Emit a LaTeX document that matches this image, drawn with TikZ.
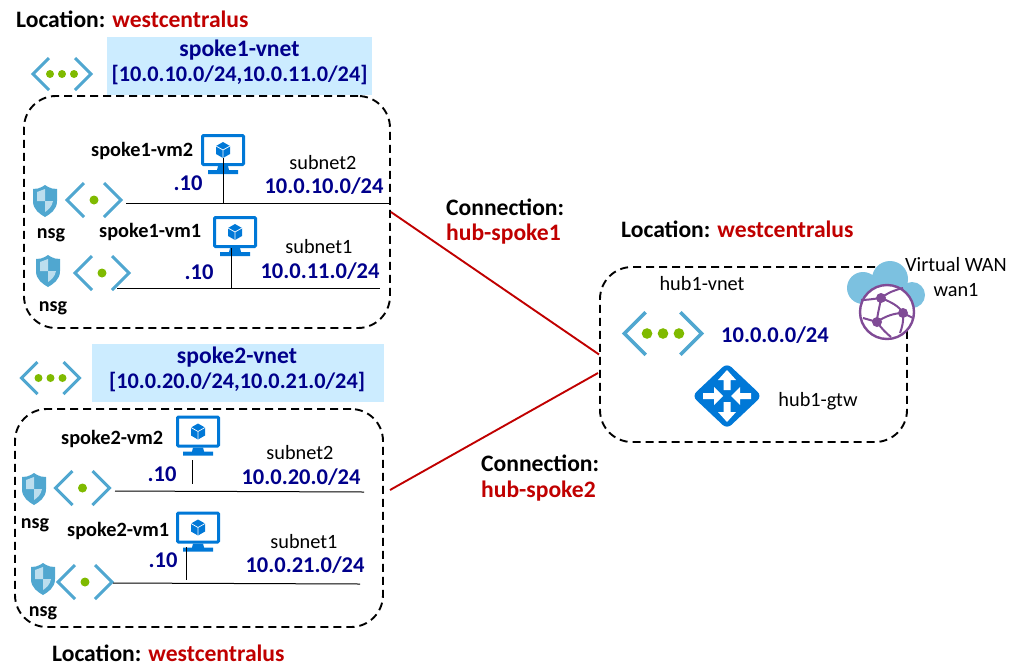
\documentclass[tikz,border=0pt]{standalone}
\usepackage{fontspec}
\setmainfont{Carlito}
\definecolor{azTeal}{RGB}{80,167,208}
\definecolor{azGreen}{RGB}{127,186,0}
\definecolor{azBlue}{RGB}{0,120,215}
\definecolor{azCloud}{RGB}{124,193,224}
\definecolor{azPurple}{RGB}{128,75,150}
\definecolor{shieldLight}{RGB}{188,222,238}
\definecolor{netBlue}{RGB}{0,0,139}
\definecolor{locRed}{RGB}{192,0,0}
\definecolor{vnetFill}{RGB}{204,236,255}
\tikzset{
  regionbox/.style={draw, line width=1.9pt, rounded corners=32pt, dash pattern=on 8pt off 5pt, inner sep=0pt},
  wire/.style={line width=1pt, black},
  link/.style={line width=1.9pt, locRed},
  loclabel/.style={font=\fontsize{23.6}{26}\selectfont\bfseries, anchor=west, inner sep=0pt},
  vmlabel/.style={font=\fontsize{20.3}{22}\selectfont\bfseries, anchor=west, inner sep=0pt},
  nsglabel/.style={font=\fontsize{20}{22}\selectfont\bfseries, inner sep=0pt},
  plainlabel/.style={font=\fontsize{20.3}{22}\selectfont, inner sep=0pt},
  cidrlabel/.style={font=\fontsize{22.5}{24}\selectfont\bfseries, netBlue, inner sep=0pt},
  vnetfill/.style={fill=vnetFill, inner sep=0pt},
  vnetlabel/.style={font=\fontsize{23.6}{25}\selectfont\bfseries, netBlue, align=center, inner sep=0pt},
  chevron/.style={draw=azTeal, line width=3pt, line join=miter},
  vnetthree/.pic={
    \draw[chevron] (-13,-16) -- (-29,0) -- (-13,16);
    \draw[chevron] (13,-16) -- (29,0) -- (13,16);
    \foreach \dx in {-12,0,12} \fill[azGreen] (\dx,0) circle (4);
  },
  vnetone/.pic={
    \draw[chevron] (-10,-17) -- (-27,0) -- (-10,17);
    \draw[chevron] (10,-17) -- (27,0) -- (10,17);
    \fill[azGreen] (0,0) circle (4.5);
  },
  nsgshield/.pic={
    \fill[azTeal] (0,-16) .. controls (6,-12) and (9,-12) .. (12,-12) -- (12,0) .. controls (12,9) and (5,13) .. (0,16) .. controls (-5,13) and (-12,9) .. (-12,0) -- (-12,-12) .. controls (-9,-12) and (-6,-12) .. (0,-16) -- cycle;
    \fill[shieldLight] (0,-12) -- (-8,-9) -- (-8,0) -- (0,0) -- cycle;
    \fill[shieldLight] (0,0) -- (8,0) .. controls (7,6) and (3,9) .. (0,11) -- cycle;
  },
  vmscreen/.pic={
    \draw[azBlue, line width=3pt, rounded corners=1pt] (-20.5,-14.5) rectangle (20.5,14.5);
    \fill[azBlue] (-5,16) -- (5,16) -- (6,20) -- (15,20) -- (15,24) -- (-15,24) -- (-15,20) -- (-6,20) -- cycle;
    \fill[azBlue] (0,-8) -- (7,-4) -- (7,4) -- (0,8) -- (-7,4) -- (-7,-4) -- cycle;
    \draw[white, line width=0.7pt] (-7,-4) -- (0,0) -- (7,-4) (0,0) -- (0,8);
  },
  gateway/.pic={
    \fill[azBlue, rounded corners=6pt] (0,-33) -- (35,0) -- (0,33) -- (-35,0) -- cycle;
    %% up and down point outward, left and right point inward
    \foreach \ang in {0,180} {
      \fill[white, rotate=\ang] (-3.5,-6) -- (-3.5,-16) -- (-9,-16) -- (0,-26) -- (9,-16) -- (3.5,-16) -- (3.5,-6) -- cycle;
      \fill[white, rotate=\ang] (-24,-3) -- (-13,-3) -- (-13,-9) -- (-4,0) -- (-13,9) -- (-13,3) -- (-24,3) -- cycle;
    }
  },
  wanicon/.pic={
    \fill[azCloud] (-24,-24) circle (16) (3,-33) circle (18) (25,-17) circle (13) (-24,-26) -- (3,-33) -- (25,-17) -- (25,-2) -- (-24,-8) -- cycle;
    \draw[azPurple, line width=2.4pt, fill=white] (0,0) circle (27);
    \begin{scope}[azPurple, line width=2pt]
      \draw (-6,-14) .. controls (-14,-13) and (-20,-12) .. (-26,-12);
      \draw (-6,-14) .. controls (2,-20) and (8,-22) .. (16,-24);
      \draw (-6,-14) .. controls (-8,-2) and (-10,4) .. (-10,10);
      \draw (-6,-14) .. controls (4,-10) and (12,-6) .. (16,1);
      \draw (-10,10) .. controls (-2,4) and (8,1) .. (16,1);
      \draw (-10,10) -- (-24,6);
      \draw (-10,10) .. controls (-6,16) and (0,22) .. (4,25);
      \draw (16,1) -- (26,6);
      \draw (16,1) .. controls (17,8) and (15,16) .. (13,21);
      \fill (-6,-14) circle (5) (16,1) circle (5) (-10,10) circle (5);
    \end{scope}
  }
}
\begin{document}
\begin{tikzpicture}[x=1pt, y=-1pt]
\useasboundingbox (0,0) rectangle (1017,670);
%% Spoke 1
\node[loclabel] (locspoke1) at (16,19.5) {Location: \textcolor{locRed}{westcentralus}};
\node[vnetfill, minimum width=265pt, minimum height=58pt] (spoke1fill) at (239.5,66) {};
\node[vnetlabel] (spoke1vnet) at (239.5,62.5) {spoke1-vnet\\{\fontsize{22.3}{25}\selectfont [10.0.10.0/24,10.0.11.0/24]}};
\pic at (62,74) {vnetthree};
\node[regionbox, minimum width=366pt, minimum height=232pt] (spoke1box) at (207,212) {};
\pic at (94,200) {vnetone};
\pic at (102,273) {vnetone};
\pic at (45,201) {nsgshield};
\pic at (48,271) {nsgshield};
\node[nsglabel] (nsg11) at (51,235) {nsg};
\node[nsglabel] (nsg12) at (53,308) {nsg};
\pic at (223,150) {vmscreen};
\pic at (235,232) {vmscreen};
\node[vmlabel] (s1vm2label) at (91,151) {spoke1-vm2};
\node[vmlabel] (s1vm1label) at (99,232) {spoke1-vm1};
\node[cidrlabel] (s1ip2) at (188,183) {.10};
\node[cidrlabel] (s1ip1) at (199,272) {.10};
\node[plainlabel] (s1sub2) at (323,163) {subnet2};
\node[plainlabel] (s1sub1) at (319,247) {subnet1};
\node[cidrlabel] (s1cidr2) at (324,186) {10.0.10.0/24};
\node[cidrlabel] (s1cidr1) at (320,271) {10.0.11.0/24};
\coordinate (s1a) at (126,203); \coordinate (s1b) at (389,203);
\coordinate (s1c) at (117,288); \coordinate (s1d) at (380,288);
\coordinate (s1stem2) at (223,158); \coordinate (s1stem1) at (231,248);
\draw[wire] (s1a) -- (s1b);
\draw[wire] (s1c) -- (s1d);
\draw[wire] (s1stem2) -- (s1stem2 |- s1a);
\draw[wire] (s1stem1) -- (s1stem1 |- s1c);
%% Spoke 2
\node[vnetfill, minimum width=292pt, minimum height=58pt] (spoke2fill) at (238,373) {};
\node[vnetlabel] (spoke2vnet) at (237,369.5) {spoke2-vnet\\{\fontsize{22.3}{25}\selectfont [10.0.20.0/24,10.0.21.0/24]}};
\pic at (50.5,378) {vnetthree};
\node[regionbox, minimum width=368pt, minimum height=218pt] (spoke2box) at (199,518) {};
\pic at (82.5,488) {vnetone};
\pic at (85,582) {vnetone};
\pic at (34,489) {nsgshield};
\pic at (43,579) {nsgshield};
\node[nsglabel] (nsg21) at (35,525) {nsg};
\node[nsglabel] (nsg22) at (43,613) {nsg};
\pic at (198,431.5) {vmscreen};
\pic at (198,527.5) {vmscreen};
\node[vmlabel] (s2vm2label) at (61,439) {spoke2-vm2};
\node[vmlabel] (s2vm1label) at (67,531) {spoke2-vm1};
\node[cidrlabel] (s2ip2) at (162,474) {.10};
\node[cidrlabel] (s2ip1) at (163,560) {.10};
\node[plainlabel] (s2sub2) at (300,453) {subnet2};
\node[plainlabel] (s2sub1) at (304,542) {subnet1};
\node[cidrlabel] (s2cidr2) at (301,477) {10.0.20.0/24};
\node[cidrlabel] (s2cidr1) at (305,565) {10.0.21.0/24};
\coordinate (s2a) at (115,491); \coordinate (s2b) at (364,492);
\coordinate (s2c) at (113,583); \coordinate (s2d) at (360,584);
\coordinate (s2stem2a) at (192,460); \coordinate (s2stem2b) at (192,484);
\coordinate (s2stem1a) at (186,547); \coordinate (s2stem1b) at (186,580);
\draw[wire] (s2a) -- (s2b);
\draw[wire] (s2c) -- (s2d);
\draw[wire] (s2stem2a) -- (s2stem2b);
\draw[wire] (s2stem1a) -- (s2stem1b);
\node[loclabel] (locspoke2) at (52,653) {Location: \textcolor{locRed}{westcentralus}};
%% Hub
\node[loclabel] (lochub) at (621,229.5) {Location: \textcolor{locRed}{westcentralus}};
\node[regionbox, minimum width=307pt, minimum height=175pt] (hubbox) at (753.5,354.5) {};
\node[plainlabel] (hubvnetlabel) at (702,284) {hub1-vnet};
\node[cidrlabel] (hubcidr) at (775,335) {10.0.0.0/24};
\pic[scale=1.33, chevron/.append style={line width=3.6pt}] at (663,333.5) {vnetthree};
\pic at (727,396) {gateway};
\node[plainlabel] (hubgtw) at (818,401) {hub1-gtw};
\pic at (887,312) {wanicon};
\node[plainlabel] (wanlabel) at (956,265) {Virtual WAN};
\node[plainlabel] (wanname) at (956,290) {wan1};
%% Connections
\coordinate (spoke2out) at (390,490);
\coordinate (hubin) at (598,373);
\draw[link] (spoke1box.east) -- (hubbox.west);
\draw[link] (spoke2out) -- (hubin);
\node[loclabel] (conn1) at (446,207) {Connection:};
\node[loclabel, locRed] (conn1name) at (446,234) {hub-spoke1};
\node[loclabel] (conn2) at (481,463) {Connection:};
\node[loclabel, locRed] (conn2name) at (481,491) {hub-spoke2};
\end{tikzpicture}
\end{document}
